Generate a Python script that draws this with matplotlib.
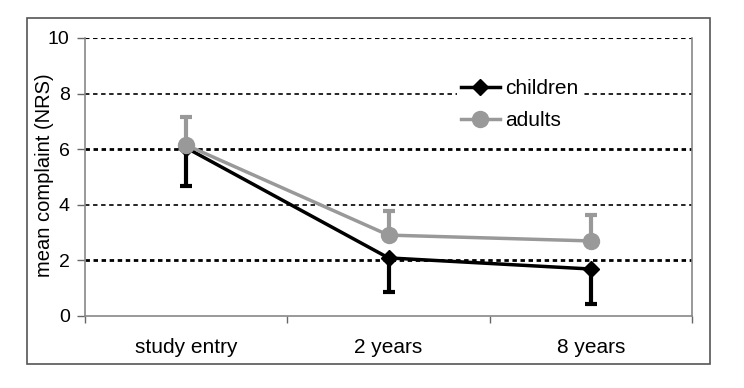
import matplotlib
matplotlib.use("Agg")
import matplotlib.pyplot as plt
from matplotlib.patches import Rectangle
from matplotlib.lines import Line2D

categories = ["study entry", "2 years", "8 years"]
children = [6.05, 2.09, 1.69]
children_lower = [4.68, 0.86, 0.43]
adults = [6.15, 2.91, 2.70]
adults_upper = [7.16, 3.78, 3.63]
yticks = [0, 2, 4, 6, 8, 10]
grid_widths = {2: 2.0, 4: 1.2, 6: 2.0, 8: 1.2, 10: 1.5}

plt.rcParams['font.family'] = ['Liberation Sans', 'DejaVu Sans']

fig = plt.figure(figsize=(7.44, 3.88), dpi=100)
fig.patches.append(Rectangle((27/744, 1-364/388), (710-27)/744, (364-18)/388,
                             transform=fig.transFigure, fill=False,
                             edgecolor='#555555', linewidth=1.2))
ax = fig.add_axes([85/744, 1-316/388, 607/744, 278/388])

x = [i + 0.5 for i in range(len(categories))]

# grid
for yv in yticks[1:]:
    lw = grid_widths[yv]
    ax.axhline(yv, color='black', linewidth=lw,
               linestyle=(0, (3.2/lw, 2.6/lw)), zorder=1)

gray = '#999999'
# children
c_err = [[c - l for c, l in zip(children, children_lower)], [0]*3]
ax.errorbar(x, children, yerr=c_err, fmt='none', ecolor='black', elinewidth=3,
            capsize=4.5, capthick=3, zorder=3)
ax.plot(x, children, color='black', linewidth=2.5, marker='D', markersize=8,
        zorder=4)
# adults
a_err = [[0]*3, [u - a for u, a in zip(adults_upper, adults)]]
ax.errorbar(x, adults, yerr=a_err, fmt='none', ecolor=gray, elinewidth=3,
            capsize=4.5, capthick=3, zorder=5)
ax.plot(x, adults, color=gray, linewidth=2.5, marker='o', markersize=11.5,
        zorder=6)

ax.set_xlim(0, 3)
ax.set_ylim(0, 10)
ax.set_yticks(yticks)
ax.set_yticklabels([str(v) for v in yticks], fontsize=14)
ax.tick_params(axis='y', length=6, width=1, color='#666666', pad=5)
ax.set_xticks([0, 1, 2, 3])
ax.set_xticklabels([])
ax.tick_params(axis='x', which='major', length=5, width=1, color='#666666', direction='out')
ax.set_xticks(x, minor=True)
ax.set_xticklabels(categories, minor=True, fontsize=15)
ax.tick_params(axis='x', which='minor', length=0, pad=16)

for s in ['left', 'bottom', 'right']:
    ax.spines[s].set_color('#888888')
    ax.spines[s].set_linewidth(1.2)
ax.spines['top'].set_visible(False)

ax.set_ylabel("mean complaint (NRS)", fontsize=14.5)
ax.yaxis.set_label_coords(-31/607, 0.507)

handles = [Line2D([], [], color='black', linewidth=2.5, marker='D', markersize=8),
           Line2D([], [], color=gray, linewidth=2.5, marker='o', markersize=11.5)]
leg = ax.legend(handles, ["children", "adults"], loc='upper left',
                bbox_to_anchor=(372/607, 1-37/278), frameon=True, fontsize=15,
                handlelength=1.85, handletextpad=0.25, labelspacing=0.62,
                borderpad=0.2, borderaxespad=0, fancybox=False)
leg.get_frame().set_edgecolor('none')
leg.get_frame().set_facecolor('white')
leg.get_frame().set_alpha(1)
leg.set_zorder(10)

fig.savefig("out.png", dpi=100)
